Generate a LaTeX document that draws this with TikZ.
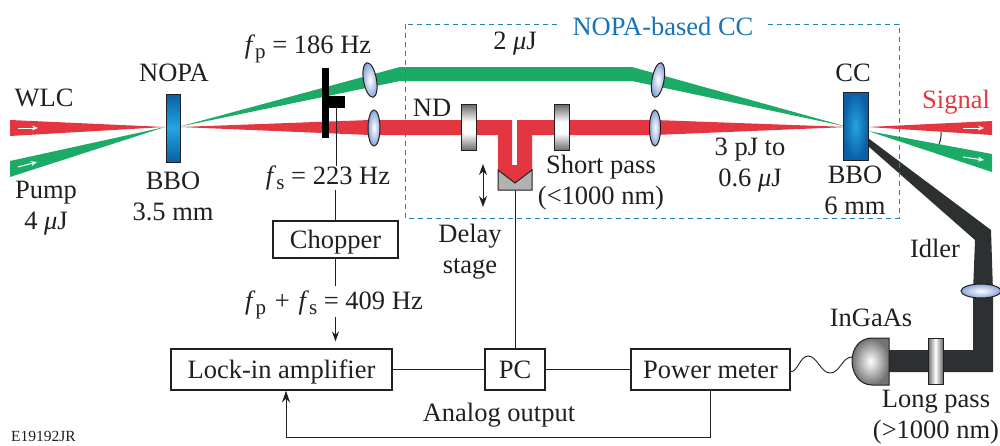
\documentclass[tikz,border=0pt]{standalone}
\usepackage{fontspec}
\setmainfont{Liberation Serif}
\usepackage{tikz}
\usetikzlibrary{arrows.meta,positioning,shapes.geometric}
\definecolor{beamred}{RGB}{227,54,65}
\definecolor{beamgreen}{RGB}{27,171,103}
\definecolor{idlerblack}{RGB}{45,48,48}
\definecolor{dashblue}{RGB}{30,130,195}
\definecolor{textblue}{RGB}{20,115,185}
\definecolor{inkdark}{RGB}{35,31,32}
\definecolor{lensblue}{RGB}{140,165,215}
\definecolor{bbodark}{RGB}{10,95,165}
\definecolor{bbolight}{RGB}{35,165,225}
\definecolor{filtergray}{RGB}{105,105,105}
\pgfdeclareverticalshading{filtershade}{100bp}{color(0bp)=(filtergray); color(25bp)=(filtergray); color(44bp)=(white); color(56bp)=(white); color(75bp)=(filtergray); color(100bp)=(filtergray)}
\pgfdeclarehorizontalshading{filtershadeh}{100bp}{color(0bp)=(filtergray); color(25bp)=(filtergray); color(50bp)=(white); color(75bp)=(filtergray); color(100bp)=(filtergray)}
\pgfdeclareverticalshading{bboshade}{100bp}{color(0bp)=(bbodark); color(25bp)=(bbodark); color(50bp)=(bbolight); color(75bp)=(bbodark); color(100bp)=(bbodark)}
\newcommand{\fsub}[1]{\textit{f}\raisebox{-5pt}{\fontsize{21}{21}\selectfont #1}}
\newcommand{\muj}{\textit{μ}J}
\tikzset{
  lbl/.style={text=inkdark,inner sep=0pt,align=center,font=\fontsize{26.5}{31}\selectfont},
  boxnode/.style={draw=inkdark,line width=1.1pt,inner sep=0pt,text height=17pt,text depth=0pt,text=inkdark,font=\fontsize{26.5}{31}\selectfont},
  lens/.style={ellipse,draw=inkdark,line width=1pt,inner sep=0pt,inner color=white,outer color=lensblue},
  filterv/.style={rectangle,draw=inkdark,line width=1pt,minimum width=15pt,minimum height=46pt,inner sep=0pt,shade,shading=filtershade},
  conn/.style={draw=inkdark,line width=1pt}
}
\begin{document}
\begin{tikzpicture}[x=1pt,y=-1pt]
  \clip (0,0) rectangle (1000,445);
  \fill[white] (0,0) rectangle (1000,445);

  \fill[beamred] (10,120) -- (165,127) -- (10,136) -- cycle;
  \fill[beamgreen] (10,161) -- (165,127) -- (10,177) -- cycle;
  \fill[beamgreen] (178,127) -- (400,67) -- (632,67) -- (848,127) -- (632,81) -- (400,81) -- cycle;
  \fill[beamred] (180,127) -- (370,120) -- (512,120) -- (512,165) -- (517,165) -- (517,120) -- (655,120)
    -- (848,127) -- (655,135) -- (532,135) -- (532,170) -- (515,183) -- (498,170) -- (498,135) -- (370,135) -- cycle;
  \fill[beamred] (868,127) -- (992,121) -- (992,135) -- cycle;
  \fill[beamgreen] (868,131) -- (992,154) -- (992,172) -- cycle;
  \fill[idlerblack] (868,138) -- (991,230) -- (993,292) -- (993,372) -- (889,372) -- (889,350) -- (973,350)
    -- (973,292) -- (975,240) -- (868,146) -- cycle;

  \draw[draw=dashblue,line width=1pt,dash pattern=on 5pt off 4pt] (405,24) rectangle (899,218);

  \foreach \x/\y/\u/\v in {18/128/38/128,18/167/37/162,963/128/984/128,963/157/984/160}{
    \draw[white,line width=1pt,-{Stealth[length=6pt,width=5pt]}] (\x,\y) -- (\u,\v);
  }
  \draw[inkdark,line width=1pt] (941,132) to[bend left=12] (939,144);

  \node[rectangle,draw=inkdark,line width=1pt,minimum width=14pt,minimum height=68pt,inner sep=0pt,shade,shading=bboshade] (nopacrystal) at (173,128) {};
  \node[rectangle,draw=inkdark,line width=1pt,minimum width=25pt,minimum height=68pt,inner sep=0pt,inner color=bbolight,outer color=bbodark] (cccrystal) at (855.5,126) {};

  \foreach \n/\x/\y/\a/\w/\h in {lensa/370/80/10/13/35,lensb/374/128/0/12/36,lensc/658/80/-10/12/35,lensd/655/128/0/11/36,lense/981/291/0/40/14}{
    \node[lens,rotate=\a,minimum width=\w pt,minimum height=\h pt] (\n) at (\x,\y) {};
  }

  \node[filterv] (ndfilter) at (468.5,127.5) {};
  \node[filterv] (shortpass) at (561.5,127.5) {};
  \node[filterv,shading=filtershadeh] (longpass) at (935.5,361) {};

  \fill[black] (322,68) rectangle (329,138);
  \fill[black] (329,96) rectangle (345,108);
  \coordinate (blade) at (336,108);

  \filldraw[fill=black!30,draw=inkdark,line width=1pt] (498,170) -- (515,183) -- (532,170) -- (532,190) -- (498,190) -- cycle;
  \coordinate (retro) at (515,190);
  \draw[inkdark,line width=1pt,{Stealth[length=11pt,width=8pt]}-{Stealth[length=11pt,width=8pt]}] (483,164) -- (483,207);

  \shade[inner color=white,outer color=black!55,draw=inkdark,line width=1pt] (889,338) -- (872,338) .. controls (860,338) and (852,348) .. (852,361)
    .. controls (852,374) and (860,385) .. (872,385) -- (889,385) -- cycle;
  \coordinate (ingaas) at (852,357);

  \node[boxnode,minimum width=125pt,minimum height=37pt] (chopper) at (335.5,239.5) {Chopper};
  \node[boxnode,minimum width=221pt,minimum height=41pt] (lockin) at (281.5,369.5) {Lock-in amplifier};
  \node[boxnode,minimum width=60pt,minimum height=41pt] (pc) at (515,369.5) {PC};
  \node[boxnode,minimum width=159pt,minimum height=41pt] (power) at (710.5,369.5) {Power meter};

  \foreach \n/\x/\y/\t in {wlc/44/98/WLC,pump/46/208/{Pump\\4 \muj},nopa/174/73/NOPA,bbo/173/196/{BBO\\3.5 mm},
    fpl/308/49/{\fsub{p} = 186 Hz},fsl/328/178/{\fsub{s} = 223 Hz},sumf/334/305/{\fsub{p}\,\,+\,\,\fsub{s} = 409 Hz},
    ndl/432/108/ND,twouj/515/44/{2 \muj},shortl/601/183/{Short pass\\(<1000 nm)},delay/470/252/{Delay\\stage},
    threepj/750/165/{3 pJ to\\0.6 \muj},ccl/853/73/CC,bbocc/855/190/{BBO\\6 mm},idler/935/248/Idler,
    ingaasl/871/318/InGaAs,longl/936/417/{Long pass\\(>1000 nm)},analog/499/415/Analog output}{
    \node[lbl] (\n) at (\x,\y) {\t};
  }
  \node[lbl,fill=white,text=textblue,inner xsep=12pt] (ccbox) at (663,26) {NOPA-based CC};
  \node[lbl,text=beamred] (signal) at (956,102) {Signal};
  \node[lbl,font=\fontsize{15.5}{18}\selectfont] (figid) at (43.5,436.5) {E19192JR};

  \draw[conn] (blade) -- (blade |- fsl.north);
  \draw[conn] (chopper.north) -- (chopper.north |- fsl.south);
  \draw[conn] (chopper.south) -- ++(0,27);
  \draw[conn,-{Stealth[length=10pt,width=7pt]}] (lockin.north -| chopper.south) ++(0,-31) -- ++(0,24);
  \draw[conn] (pc.north) -- (retro);
  \draw[conn] (lockin.east) -- (pc.west);
  \draw[conn] (pc.east) -- (power.west);
  \draw[conn,-{Stealth[length=12pt,width=8pt]}] (power.south) -- ++(0,47) -| ([xshift=4.5pt]lockin.south);
  \draw[inkdark,line width=0.9pt] (power.east) ++(0,2) .. controls (797,373) and (800,356) .. (808,356)
    .. controls (817,356) and (821,373) .. (830,373) .. controls (840,373) and (842,357) .. (ingaas);
\end{tikzpicture}
\end{document}
